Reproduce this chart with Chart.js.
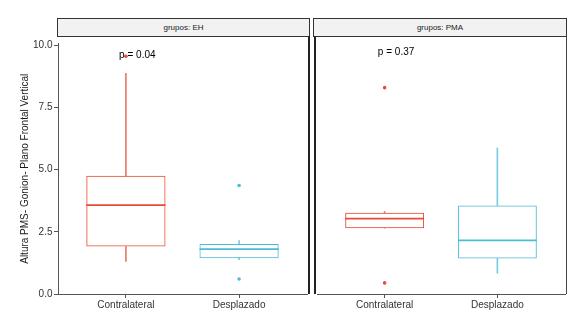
<!DOCTYPE html>
<html>
<head>
<meta charset="utf-8">
<script src="https://cdn.jsdelivr.net/npm/chart.js@4.4.1/dist/chart.umd.min.js"></script>
<style>
  body { margin: 0; background: #fff; }
  #wrap { position: relative; width: 577px; height: 322px; overflow: hidden; font-family: "Liberation Sans", Arial, sans-serif; }
  canvas { position: absolute; }
  .strip { position: absolute; top: 18px; height: 17px; background: #f2f2f2; border: 1px solid #333; font-size: 8px; color: #1a1a1a; text-align: center; line-height: 17px; }
  .edge { position: absolute; top: 36px; height: 258px; }
</style>
</head>
<body>
<div id="wrap">
  <div class="strip" style="left:57px; width:251px;">grupos: EH</div>
  <div class="strip" style="left:313px; width:252px;">grupos: PMA</div>
  <canvas id="ehChart" width="311" height="286" style="left:0; top:36px;"></canvas>
  <canvas id="pmaChart" width="256" height="286" style="left:313px; top:36px;"></canvas>
  <div class="edge" style="left:308px; width:2px; background:#222;"></div>
  <div class="edge" style="left:313.5px; width:2px; background:#222;"></div>
  <div class="edge" style="left:566px; width:1px; background:#444;"></div>
</div>
<script>
// Categories and colours
const groups = ['Contralateral', 'Desplazado'];
const groupPos = [1, 2];
const boxColors = ['#E64B35', '#4DBBD5'];
const whiskerColors = ['rgba(230,75,53,0.75)', 'rgba(77,187,213,0.75)'];

// grupos: EH
const ehLower = [1.31, 1.38];
const ehQ1 = [1.91, 1.44];
const ehMedian = [3.57, 1.80];
const ehQ3 = [4.75, 2.01];
const ehUpper = [8.87, 2.15];
const ehOutliers = [[9.56], [4.36, 0.60]];

// grupos: PMA
const pmaLower = [2.61, 0.82];
const pmaQ1 = [2.61, 1.41];
const pmaMedian = [2.99, 2.13];
const pmaQ3 = [3.22, 3.51];
const pmaUpper = [3.27, 5.79];
const pmaOutliers = [[8.18, 0.44], []];

// p-value labels
const pLabels = ['p = 0.04', 'p = 0.37'];
const pLabelX = 0.94;
const pLabelY = 9.6;

// Axes
const yTicks = [0, 2.5, 5, 7.5, 10];
const yMax = 10.07;
const xMin = 0.4;
const xMax = 2.6;
const yTitle = 'Altura PMS- Gonion- Plano Frontal Vertical';

Chart.defaults.font.family = "'Liberation Sans', Arial, sans-serif";

function boxDatasets(lower, q1, med, q3, upper, outliers) {
    const pts = [];
    const ptColors = [];
    outliers.forEach((vals, i) => vals.forEach(v => {
        pts.push({ x: groupPos[i], y: v });
        ptColors.push(boxColors[i]);
    }));
    return [
        {
            type: 'line', data: pts, showLine: false, pointRadius: 1.8,
            pointBackgroundColor: ptColors, pointBorderWidth: 0, clip: false, order: 0
        },
        {
            type: 'bar', data: med.map((m, i) => ({ x: groupPos[i], y: [m - 0.035, m + 0.035] })),
            backgroundColor: boxColors, barPercentage: 0.7, categoryPercentage: 1, grouped: false, order: 1
        },
        {
            type: 'bar', data: q1.map((v, i) => ({ x: groupPos[i], y: [v, q3[i]] })),
            backgroundColor: 'rgba(255,255,255,0)', borderColor: boxColors, borderWidth: 1,
            borderSkipped: false, barPercentage: 0.7, categoryPercentage: 1, grouped: false, order: 2
        },
        {
            type: 'bar', data: lower.map((v, i) => ({ x: groupPos[i], y: [v, q1[i]] })),
            backgroundColor: whiskerColors, barThickness: 1, grouped: false, order: 3
        },
        {
            type: 'bar', data: q3.map((v, i) => ({ x: groupPos[i], y: [v, upper[i]] })),
            backgroundColor: whiskerColors, barThickness: 1, grouped: false, order: 3
        }
    ];
}

// draws the p-value text at a data position
const pLabelPlugin = {
    id: 'pLabel',
    afterDatasetsDraw(chart, args, opts) {
        const ctx = chart.ctx;
        ctx.save();
        ctx.fillStyle = '#000';
        ctx.font = "10px 'Liberation Sans', Arial, sans-serif";
        ctx.textAlign = 'left';
        ctx.textBaseline = 'middle';
        ctx.fillText(opts.text, chart.scales.x.getPixelForValue(pLabelX), chart.scales.y.getPixelForValue(pLabelY));
        ctx.restore();
    }
};

function xScale() {
    return {
        type: 'linear', min: xMin, max: xMax, offset: false,
        afterBuildTicks: s => { s.ticks = groupPos.map(v => ({ value: v })); },
        afterFit: s => { s.height = 28; },
        ticks: {
            color: '#333', font: { size: 10 }, padding: 1, autoSkip: false, maxRotation: 0,
            callback: v => groups[Math.round(v) - 1]
        },
        grid: { drawOnChartArea: false, tickLength: 4, tickColor: '#555', offset: false },
        border: { color: '#555', width: 1 }
    };
}

function makePanel(id, datasets, label, showY, padding) {
    const ctx = document.getElementById(id).getContext('2d');
    return new Chart(ctx, {
        type: 'bar',
        data: { datasets: datasets },
        plugins: [pLabelPlugin],
        options: {
            responsive: false,
            animation: false,
            devicePixelRatio: 1,
            events: [],
            layout: { padding: padding },
            plugins: { legend: { display: false }, tooltip: { enabled: false }, pLabel: { text: label } },
            scales: {
                x: xScale(),
                y: {
                    display: showY, min: 0, max: yMax,
                    afterBuildTicks: s => { s.ticks = yTicks.map(v => ({ value: v })); },
                    afterFit: s => { s.width = showY ? 58 : 0; },
                    ticks: { color: '#333', font: { size: 10 }, padding: 1.5, callback: v => v.toFixed(1) },
                    grid: { drawOnChartArea: false, tickLength: 4, tickColor: '#555' },
                    border: { color: '#555', width: 1 },
                    title: { display: true, text: yTitle, color: '#1a1a1a', font: { size: 10 }, padding: { top: 19, bottom: 0 } }
                }
            }
        }
    });
}

makePanel('ehChart', boxDatasets(ehLower, ehQ1, ehMedian, ehQ3, ehUpper, ehOutliers), pLabels[0], true,
    { left: 0, right: 2, top: 0, bottom: 0 });
makePanel('pmaChart', boxDatasets(pmaLower, pmaQ1, pmaMedian, pmaQ3, pmaUpper, pmaOutliers), pLabels[1], false,
    { left: 1.5, right: 2.5, top: 0, bottom: 0 });
</script>
</body>
</html>
